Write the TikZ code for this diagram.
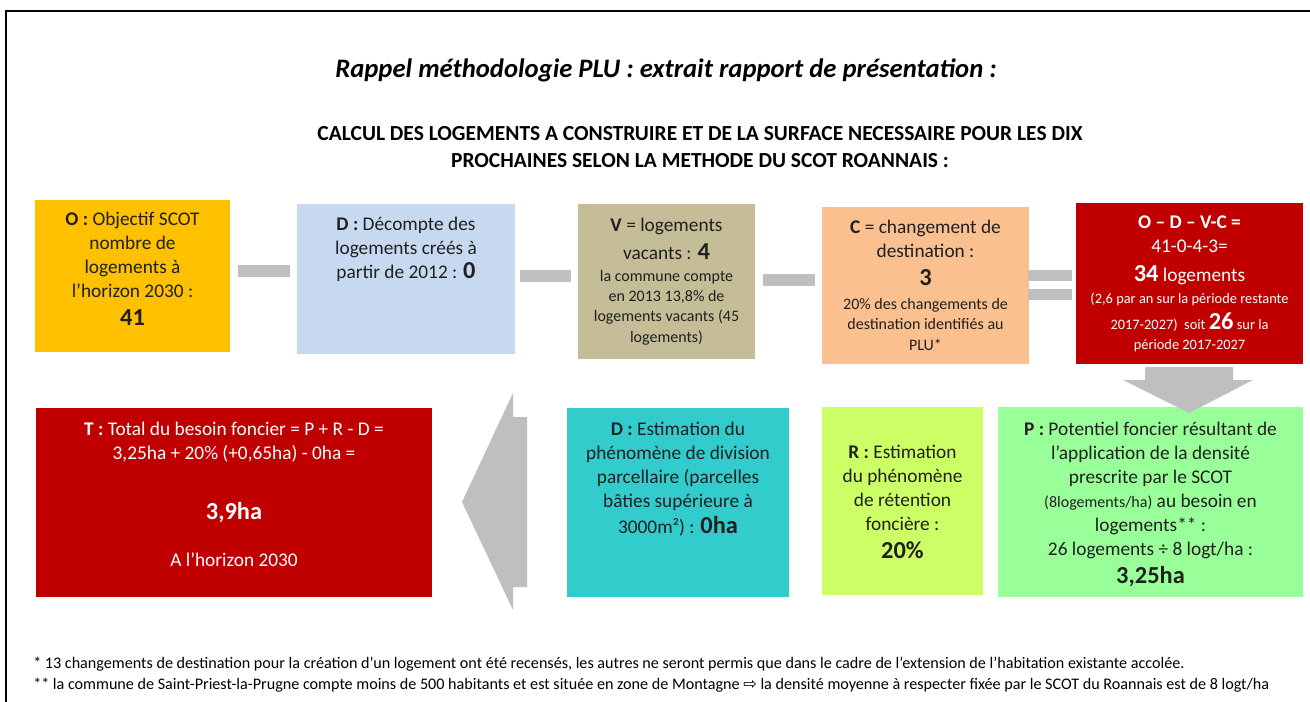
\documentclass[tikz,border=0pt]{standalone}
\usepackage{fontspec}
\setmainfont{Carlito}
\newfontfamily\flechefont{DejaVu Sans}
\usetikzlibrary{positioning}

\definecolor{txt}{HTML}{202020}
\definecolor{gris}{HTML}{BFBFBF}
\definecolor{cObj}{HTML}{FFC000}
\definecolor{cDec}{HTML}{C6D9F1}
\definecolor{cVac}{HTML}{C4BD97}
\definecolor{cChg}{HTML}{FAC090}
\definecolor{cRouge}{HTML}{C00000}
\definecolor{cDiv}{HTML}{33CCCC}
\definecolor{cRet}{HTML}{CCFF66}
\definecolor{cPot}{HTML}{99FF99}

\newcommand{\chiffre}[1]{{\fontsize{18.3}{20}\selectfont\bfseries #1}}
\newcommand{\petit}{\fontsize{12}{15}\selectfont}
\newcommand{\minus}{\fontsize{10.8}{16.5}\selectfont}

\begin{document}
\begin{tikzpicture}[x=0.75pt, y=-0.75pt,
  boite/.style={rectangle, inner sep=0pt},
  texte/.style={inner sep=0pt, text=txt, font=\fontsize{14.5}{18}\selectfont, align=flush center},
  barre/.style={rectangle, fill=gris, inner sep=0pt, minimum width=39pt, minimum height=9pt},
  note/.style={anchor=west, inner sep=0pt, font=\fontsize{12.1}{15}\selectfont}
]
  \useasboundingbox (0,0) rectangle (1310,702);
  \draw[line width=1.5pt] (6,702) -- (6,11) -- (1310,11);

  % titres
  \node[font=\fontsize{20}{24}\selectfont\bfseries\itshape] (titre) at (666,70) {Rappel méthodologie PLU : extrait rapport de présentation :};
  \node[font=\fontsize{16.1}{20}\selectfont\bfseries, align=center] (soustitre) at (700,147) {CALCUL DES LOGEMENTS A CONSTRUIRE ET DE LA SURFACE NECESSAIRE POUR LES DIX\\PROCHAINES SELON LA METHODE DU SCOT ROANNAIS :};

  % ligne du haut : O - D - V - C = ...
  \node[boite, fill=cObj, minimum width=146.25pt, minimum height=114pt] (O) at (132.5,276) {};
  \node[texte, text width=144pt, below=9pt of O.north] (Otexte)
    {\textbf{O :} Objectif SCOT\\nombre de\\logements à\\l’horizon 2030 :\\[3pt]\chiffre{41}};
  \node[boite, fill=cDec, minimum width=163.5pt, minimum height=112.5pt] (D) at (406,279) {};
  \node[texte, text width=160pt, below=9.5pt of D.north] (Dtexte)
    {\textbf{D :} Décompte des\\logements créés à\\partir de 2012 : \chiffre{0}};
  \node[boite, fill=cVac, minimum width=132.75pt, minimum height=116.25pt] (V) at (666.5,281.5) {};
  \node[texte, text width=131pt, below=10.25pt of V.north] (Vtexte)
    {\textbf{V} = logements\\[3pt]vacants : \chiffre{4}\\[1.5pt]\petit la commune compte\\en 2013 13,8\% de\\logements vacants (45\\[-2pt]logements)};
  \node[boite, fill=cChg, minimum width=155.25pt, minimum height=117.75pt] (C) at (925.5,285.5) {};
  \node[texte, text width=153pt, below=9.5pt of C.north] (Ctexte)
    {\textbf{C} = changement de\\destination :\\[3pt]\chiffre{3}\\[3pt]\petit 20\% des changements de\\destination identifiés au\\[-2pt]PLU*};
  \node[boite, fill=cRouge, minimum width=170.25pt, minimum height=120.75pt] (res) at (1189.5,283.5) {};
  \node[texte, text=white, text width=168pt, below=9.5pt of res.north] (restexte)
    {\textbf{O – D – V-C =}\\41-0-4-3=\\[4pt]\chiffre{34} logements\\\minus (2,6 par an sur la période restante\\[3pt]2017-2027)~ soit \chiffre{26} sur la\\[-3pt]période 2017-2027};

  % signes - - - =
  \node[barre] (moins1) at (264,271) {};
  \node[barre, minimum width=38.25pt] (moins2) at (545.5,276.5) {};
  \node[barre] (moins3) at (789,280.5) {};
  \node[barre, minimum width=33pt, minimum height=8.25pt] (egal1) at (1050,275.5) {};
  \node[barre, minimum width=33pt, minimum height=8.25pt] (egal2) at (1050,294.5) {};

  % ligne du bas : T <- D  R  P
  \node[boite, fill=cRouge, minimum width=297pt, minimum height=141.75pt] (T) at (234,502.5) {};
  \node[texte, text=white, text width=294pt, below=10.25pt of T.north] (Ttexte)
    {\textbf{T :} Total du besoin foncier = P + R - D =\\3,25ha + 20\% (+0,65ha) - 0ha =\\[27pt]\chiffre{3,9ha}\\[17.5pt]A l’horizon 2030};
  \node[boite, fill=cDiv, minimum width=166.5pt, minimum height=141.75pt] (Ddiv) at (678,502.5) {};
  \node[texte, text width=164pt, below=10.25pt of Ddiv.north] (Ddivtexte)
    {\textbf{D :} Estimation du\\phénomène de division\\parcellaire (parcelles\\bâties supérieure à\\[2pt]3000m²) : \chiffre{0ha}};
  \node[boite, fill=cRet, minimum width=120.75pt, minimum height=141pt] (R) at (902.5,501) {};
  \node[texte, text width=119pt, below=28.25pt of R.north] (Rtexte)
    {\textbf{R :} Estimation\\du phénomène\\de rétention\\foncière :\\[3pt]\chiffre{20\%}};
  \node[boite, fill=cPot, minimum width=228.75pt, minimum height=142.5pt] (P) at (1150.5,502) {};
  \node[texte, text width=226pt, below=11pt of P.north] (Ptexte)
    {\textbf{P :} Potentiel foncier résultant de\\l’application de la densité\\prescrite par le SCOT\\{\petit (8logements/ha)} au besoin en\\logements** :\\26 logements ÷ 8 logt/ha :\\[3pt]\chiffre{3,25ha}};

  % grosses flèches
  \fill[gris] (1145,367) -- (1233,367) -- (1233,380) -- (1253,380) -- (1189,413) -- (1123,380) -- (1145,380) -- cycle;
  \fill[gris] (527,417) -- (527,587) -- (513,587) -- (513,610) -- (462,502) -- (513,393) -- (513,417) -- cycle;

  % notes
  \node[note] (note1) at (33,664) {* 13 changements de destination pour la création d’un logement ont été recensés, les autres ne seront permis que dans le cadre de l’extension de l’habitation existante accolée.};
  \node[note] (note2) at (33,685) {** la commune de Saint-Priest-la-Prugne compte moins de 500 habitants et est située en zone de Montagne {\flechefont ⇨} la densité moyenne à respecter fixée par le SCOT du Roannais est de 8 logt/ha};
\end{tikzpicture}
\end{document}
